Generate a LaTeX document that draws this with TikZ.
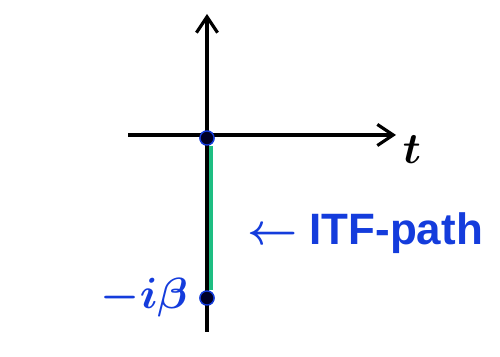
\documentclass[tikz,border=0pt]{standalone}
\usepackage{amsmath}
\usepackage{fontspec}
\setsansfont{Liberation Sans}
\usetikzlibrary{arrows.meta,positioning}
\definecolor{pen}{RGB}{20,60,220}
\definecolor{itf}{RGB}{30,190,130}
\tikzset{axis/.style={-{Straight Barb[length=9pt,width=12pt]}, line width=1.8pt},
  dot/.style={circle, fill=black!85!blue, draw=pen, line width=0.8pt, inner sep=0pt, minimum size=8pt},
  lbl/.style={text=pen, font=\sffamily\bfseries\fontsize{25}{28}\selectfont}}

\begin{document}
\begin{tikzpicture}[x=0.02cm, y=-0.02cm]
  \useasboundingbox (0,0) rectangle (500,357);
  \coordinate (vbot) at (207,332);
  \coordinate (vtop) at (207,14);
  \coordinate (hl) at (128,135);
  \coordinate (hr) at (396,135);
  \node[dot] (O) at (207,138) {};
  \node[dot] (beta) at (207,298) {};
  % imaginary-time contour, drawn beside the time axis
  \draw[itf, line width=2.6pt] ([xshift=2pt]O.south) -- ([xshift=2pt]beta.north);
  \draw[axis] (vbot) -- (vtop);
  \draw[axis] (hl) -- (hr);
  \node[dot] at (O) {};
  \node[dot] at (beta) {};
  \node[font=\fontsize{28}{30}\selectfont] (t) at (412,150) {$\boldsymbol{t}$};
  \node[lbl, font=\sffamily\fontsize{24}{27}\selectfont, left=3pt of beta] (ib) {$\boldsymbol{-i\beta}$};
  \node[lbl] (path) at (365,233) {$\boldsymbol{\leftarrow}$ ITF-path};
\end{tikzpicture}
\end{document}
